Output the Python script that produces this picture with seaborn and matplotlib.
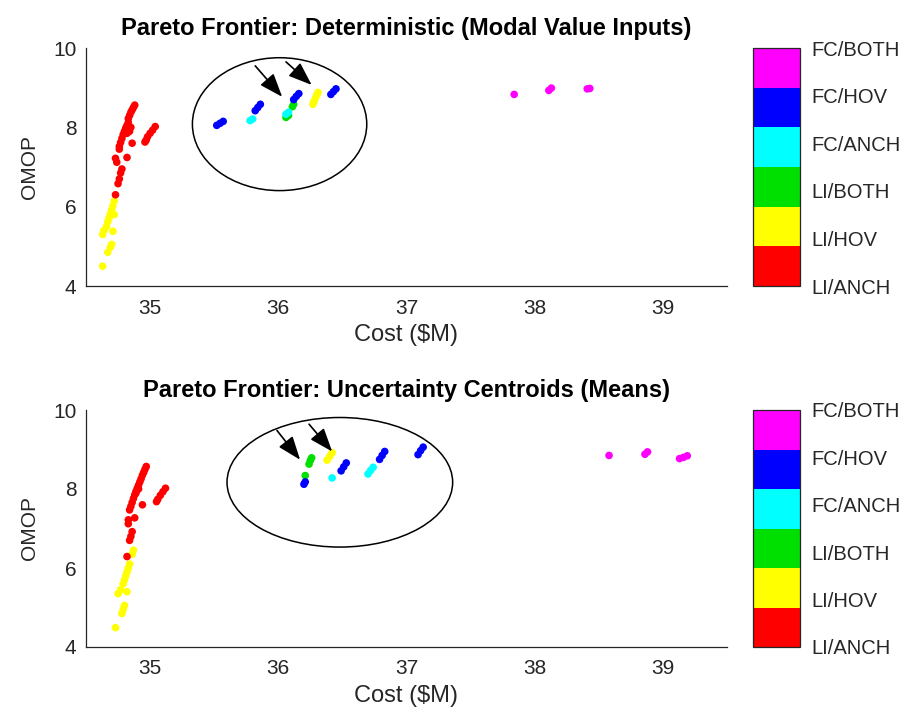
import numpy as np
import pandas as pd
import seaborn as sns
import matplotlib
matplotlib.use("Agg")
import matplotlib.pyplot as plt
from matplotlib.colors import ListedColormap, BoundaryNorm
from matplotlib.cm import ScalarMappable
from matplotlib.patches import Ellipse

# ---------------- data ----------------
categories = ["LI/ANCH", "LI/HOV", "LI/BOTH", "FC/ANCH", "FC/HOV", "FC/BOTH"]
cat_colors = ["#ff0000", "#ffff00", "#00e000", "#00ffff", "#0000ff", "#ff00ff"]

titles = ["Pareto Frontier: Deterministic (Modal Value Inputs)",
          "Pareto Frontier: Uncertainty Centroids (Means)"]

# Deterministic panel
det_cost = [34.88, 34.87, 34.86, 34.85, 34.84, 34.83, 34.83, 34.82, 34.81, 34.80, 34.79, 34.78,
            34.77, 34.76, 34.76, 34.85, 34.84, 34.82, 34.86, 34.82, 34.73, 34.74, 34.78, 34.77,
            34.76, 34.75,
            35.04, 35.02, 35.00, 34.98, 34.97, 34.96,
            34.72, 34.71, 34.70, 34.69, 34.68, 34.67, 34.66, 34.64, 34.63, 34.71, 34.70, 34.69,
            34.67, 34.63, 34.72,
            34.73,
            36.06, 36.08, 36.11, 36.12,
            35.78, 35.80, 36.06, 36.08,
            35.52, 35.545, 35.57, 35.82, 35.84, 35.86, 36.12, 36.14, 36.16, 36.41, 36.43, 36.45,
            36.27, 36.28, 36.29, 36.30, 36.31,
            37.84, 38.11, 38.13, 38.41, 38.43]
det_omop = [8.56, 8.50, 8.44, 8.38, 8.30, 8.22, 8.12, 8.05, 7.98, 7.90, 7.82, 7.72,
            7.62, 7.52, 7.45, 8.00, 7.90, 7.85, 7.60, 7.24, 7.22, 7.12, 6.95, 6.85,
            6.70, 6.58,
            8.02, 7.93, 7.85, 7.76, 7.68, 7.63,
            6.15, 6.02, 5.92, 5.82, 5.72, 5.62, 5.50, 5.40, 5.30, 5.38, 5.05, 4.98,
            4.85, 4.50, 5.80,
            6.30,
            8.25, 8.30, 8.52, 8.58,
            8.17, 8.21, 8.33, 8.38,
            8.05, 8.10, 8.15, 8.42, 8.50, 8.58, 8.70, 8.78, 8.85, 8.83, 8.90, 8.97,
            8.58, 8.66, 8.74, 8.82, 8.88,
            8.83, 8.93, 8.99, 8.97, 8.98]
det_cat = (["LI/ANCH"] * 32 + ["LI/HOV"] * 15 + ["LI/ANCH"] + ["LI/BOTH"] * 4 +
           ["FC/ANCH"] * 4 + ["FC/HOV"] * 12 + ["LI/HOV"] * 5 + ["FC/BOTH"] * 5)

# Uncertainty-centroid panel
mean_cost = [34.97, 34.96, 34.95, 34.94, 34.93, 34.92, 34.91, 34.90, 34.89, 34.88, 34.87, 34.86,
             34.85, 34.84, 34.91, 34.89, 34.94, 34.88, 34.83, 34.83, 34.86, 34.85, 34.84,
             35.12, 35.10, 35.08, 35.06, 35.05,
             34.87, 34.86, 34.84, 34.83, 34.82, 34.81, 34.80, 34.79, 34.77, 34.75, 34.82, 34.80,
             34.79, 34.78, 34.73,
             34.82,
             36.24, 36.25, 36.26, 36.21,
             36.42, 36.70, 36.72, 36.74,
             36.20, 36.21, 36.49, 36.51, 36.53, 36.79, 36.81, 36.83, 37.09, 37.11, 37.13,
             36.38, 36.40, 36.42,
             38.58, 38.86, 38.88, 39.13, 39.16, 39.19]
mean_omop = [8.57, 8.50, 8.42, 8.35, 8.26, 8.18, 8.10, 8.02, 7.94, 7.85, 7.76, 7.66,
             7.56, 7.47, 8.00, 7.90, 7.60, 7.27, 7.22, 7.12, 6.92, 6.80, 6.70,
             8.02, 7.93, 7.84, 7.74, 7.68,
             6.45, 6.35, 6.10, 6.00, 5.90, 5.80, 5.70, 5.60, 5.45, 5.35, 5.40, 5.05,
             4.95, 4.85, 4.49,
             6.29,
             8.63, 8.72, 8.79, 8.34,
             8.28, 8.38, 8.47, 8.55,
             8.12, 8.18, 8.46, 8.56, 8.66, 8.75, 8.85, 8.95, 8.87, 8.97, 9.06,
             8.73, 8.82, 8.92,
             8.85, 8.88, 8.94, 8.77, 8.80, 8.84]
mean_cat = (["LI/ANCH"] * 28 + ["LI/HOV"] * 15 + ["LI/ANCH"] + ["LI/BOTH"] * 4 +
            ["FC/ANCH"] * 4 + ["FC/HOV"] * 11 + ["LI/HOV"] * 3 + ["FC/BOTH"] * 6)

# annotations: ellipse (center x, center y, width, height) and arrows (tail -> head)
det_ellipse = (36.01, 8.08, 1.36, 3.35)
mean_ellipse = (36.48, 8.17, 1.76, 3.28)
det_arrows = [((35.82, 9.55), (36.03, 8.77)), ((36.06, 9.65), (36.26, 9.07))]
mean_arrows = [((35.99, 9.48), (36.17, 8.74)), ((36.24, 9.64), (36.42, 8.95))]

# ---------------- style ----------------
sns.set_style("white")
plt.rcParams["font.family"] = ["Liberation Sans", "DejaVu Sans"]
plt.rcParams["xtick.direction"] = "in"
plt.rcParams["ytick.direction"] = "in"

fig = plt.figure(figsize=(9.10, 7.26), dpi=100)
W, H = 910, 726

def frac(x0, y0, x1, y1):
    return [x0 / W, 1 - y1 / H, (x1 - x0) / W, (y1 - y0) / H]

ax_rects = [frac(86, 48, 727, 286), frac(86, 410, 727, 647)]
cb_rects = [frac(753, 48, 800, 286), frac(753, 410, 800, 647)]

palette = dict(zip(categories, cat_colors))
cmap = ListedColormap(cat_colors)
norm = BoundaryNorm(np.arange(7), cmap.N)
TXT = "#262626"

panels = [(det_cost, det_omop, det_cat, det_ellipse, det_arrows),
          (mean_cost, mean_omop, mean_cat, mean_ellipse, mean_arrows)]

for i, (cost, omop, cat, ell, arrows) in enumerate(panels):
    ax = fig.add_axes(ax_rects[i])
    df = pd.DataFrame({"Cost": cost, "OMOP": omop, "Cat": cat})
    sns.scatterplot(data=df, x="Cost", y="OMOP", hue="Cat", palette=palette,
                    legend=False, s=30, linewidth=0, ax=ax)
    ax.set_xlim(34.5, 39.5)
    ax.set_ylim(4, 10)
    ax.set_xticks([35, 36, 37, 38, 39])
    ax.set_yticks([4, 6, 8, 10])
    ax.tick_params(axis="both", labelsize=15, length=4, width=0.8, colors=TXT,
                   labelcolor=TXT)
    ax.tick_params(axis="x", pad=9)
    ax.tick_params(axis="y", pad=7)
    for s in ["top", "right"]:
        ax.spines[s].set_visible(False)
    for s in ["left", "bottom"]:
        ax.spines[s].set_color(TXT)
        ax.spines[s].set_linewidth(0.9)
    ax.set_xlabel("Cost ($M)", fontsize=17, color=TXT, labelpad=5)
    ax.set_ylabel("OMOP", fontsize=15, color=TXT, labelpad=10)
    ax.set_title(titles[i], fontsize=17, fontweight="bold", color="black", pad=9)
    ax.add_patch(Ellipse((ell[0], ell[1]), ell[2], ell[3], fill=False,
                         edgecolor="black", linewidth=1.1))
    for (tx, ty), (hx, hy) in arrows:
        ax.annotate("", xy=(hx, hy), xytext=(tx, ty),
                    arrowprops=dict(arrowstyle="-|>,head_length=1.2,head_width=0.45",
                                    color="black", lw=1.2, shrinkA=0, shrinkB=0,
                                    mutation_scale=12))

    cax = fig.add_axes(cb_rects[i])
    sm = ScalarMappable(norm=norm, cmap=cmap)
    cb = fig.colorbar(sm, cax=cax)
    cb.set_ticks(np.linspace(0, 6, 6))
    cb.set_ticklabels(categories)
    cb.ax.tick_params(labelsize=14.5, length=0, pad=8, labelcolor=TXT)
    cb.outline.set_linewidth(0.9)
    cb.outline.set_edgecolor(TXT)

fig.savefig("out.png", dpi=100)
